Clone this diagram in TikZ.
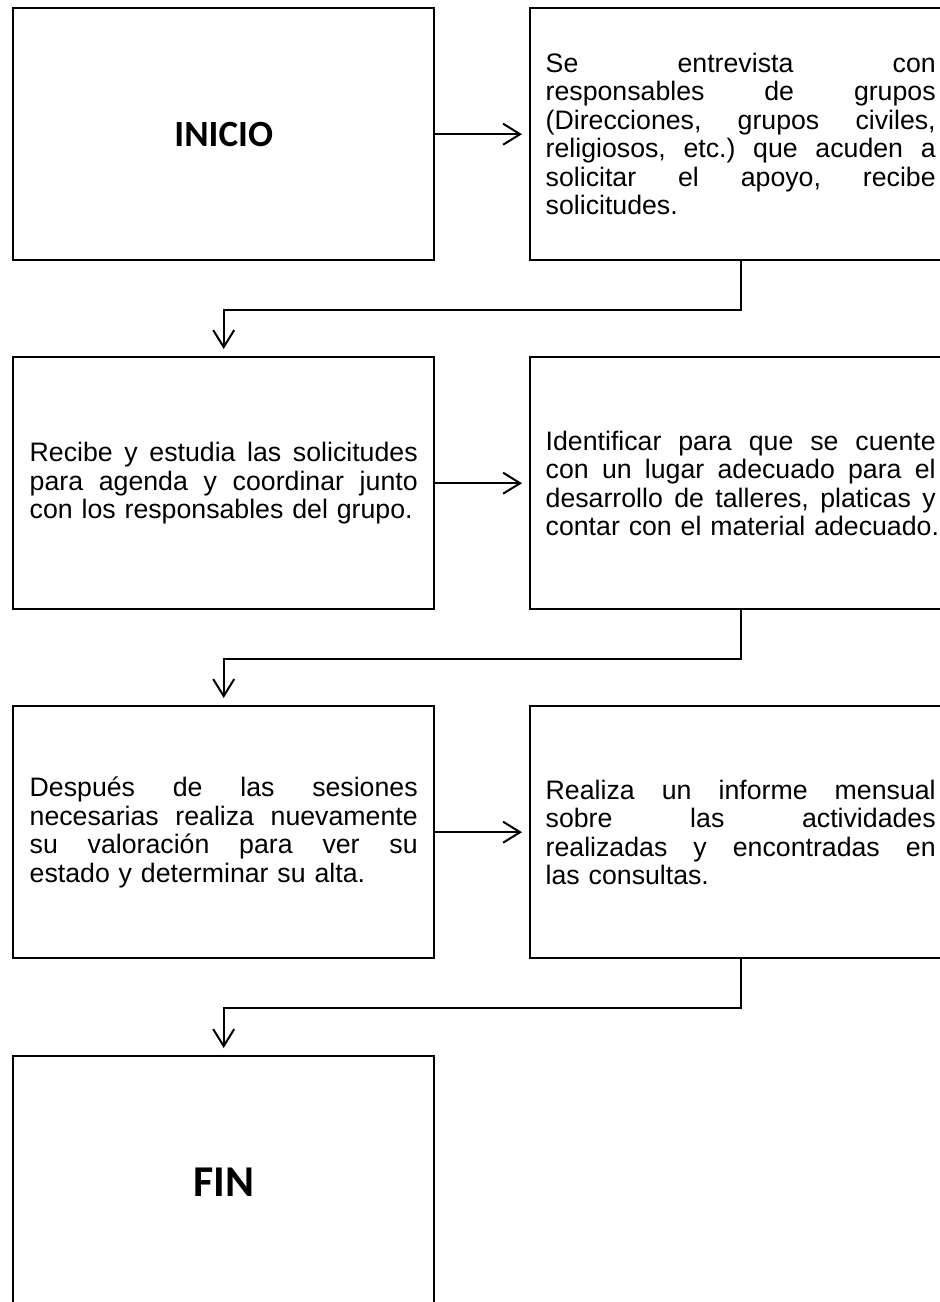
\documentclass[tikz,border=0pt]{standalone}
\usepackage{fontspec}
\setmainfont{Liberation Sans}
\newfontfamily\calib{Carlito}
\usetikzlibrary{arrows.meta}
\newcommand{\J}[1]{\leavevmode\hbox to\hsize{\frenchspacing\spaceskip=.278em plus 1fil\relax #1}\\}
\newcommand{\Lst}[1]{\leavevmode\hbox{\frenchspacing #1}}
\begin{document}
\begin{tikzpicture}[x=1pt,y=-1pt,
  box/.style={draw, line width=2.4pt, minimum width=421pt, minimum height=252pt,
    inner sep=0pt, anchor=north west, text width=388pt, align=left,
    font=\fontsize{26.7}{28.5}\selectfont},
  rbox/.style={box, text width=390pt},
  titlebox/.style={box, align=center},
  conn/.style={line width=2pt, -{Straight Barb[length=17pt,width=21pt,line width=2pt]}, shorten >=7pt}]
\useasboundingbox (0,0) rectangle (940,1302);
\clip (0,0) rectangle (940,1302);
\fill[white] (0,0) rectangle (940,1302);
% row 1
\node[titlebox] (b1) at (12,7) {\calib\bfseries\fontsize{37}{40}\selectfont INICIO};
\node[rbox] (b2) at (529,7) {\J{Se entrevista con}\J{responsables de grupos}\J{(Direcciones, grupos civiles,}\J{religiosos, etc.) que acuden a}\J{solicitar el apoyo, recibe}\Lst{solicitudes.}};
% row 2
\node[box] (b3) at (12,356) {\J{Recibe y estudia las solicitudes}\J{para agenda y coordinar junto}\Lst{con los responsables del grupo.}};
\node[rbox] (b4) at (529,356) {\J{Identificar para que se cuente}\J{con un lugar adecuado para el}\J{desarrollo de talleres, platicas y}\Lst{contar con el material adecuado.}};
% row 3
\node[box] (b5) at (12,705) {\J{Después de las sesiones}\J{necesarias realiza nuevamente}\J{su valoración para ver su}\Lst{estado y determinar su alta.}};
\node[rbox] (b6) at (529,705) {\J{Realiza un informe mensual}\J{sobre las actividades}\J{realizadas y encontradas en}\Lst{las consultas.}};
% row 4
\node[titlebox] (b7) at (12,1055) {\calib\bfseries\fontsize{44}{48}\selectfont FIN};
% connectors
\draw[conn] (b1.east) -- (b2.west);
\draw[conn] (b2.south) -- ++(0,49) -| (b3.north);
\draw[conn] (b3.east) -- (b4.west);
\draw[conn] (b4.south) -- ++(0,49) -| (b5.north);
\draw[conn] (b5.east) -- (b6.west);
\draw[conn] (b6.south) -- ++(0,49) -| (b7.north);
\end{tikzpicture}
\end{document}
